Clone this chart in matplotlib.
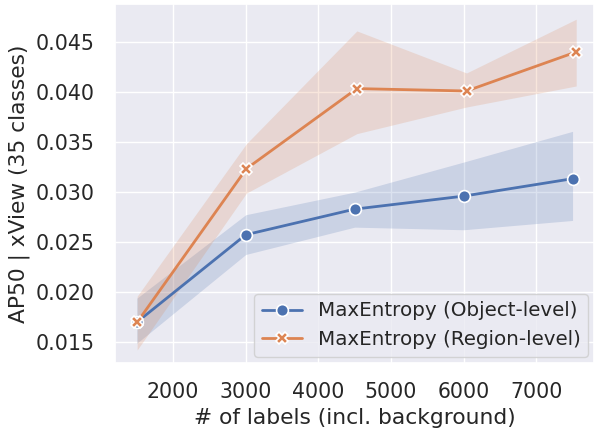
import numpy as np
import matplotlib
matplotlib.use('Agg')
import matplotlib.pyplot as plt
import seaborn as sns

# data
x_obj = [1500, 3000, 4500, 6000, 7500]
y_obj = [0.0170, 0.02574, 0.0283, 0.0296, 0.03134]
lo_obj = [0.0149, 0.02377, 0.0265, 0.02624, 0.02717]
hi_obj = [0.0194, 0.02774, 0.0300, 0.0330, 0.03607]

x_reg = [1505, 3010, 4530, 6040, 7550]
y_reg = [0.0170, 0.03234, 0.04034, 0.0401, 0.0440]
lo_reg = [0.01423, 0.0299, 0.03584, 0.0385, 0.0406]
hi_reg = [0.0196, 0.03484, 0.0461, 0.0419, 0.04727]

labels = ['MaxEntropy (Object-level)', 'MaxEntropy (Region-level)']

sns.set_theme(style='darkgrid')
plt.rcParams['font.family'] = ['DejaVu Sans']
pal = sns.color_palette('deep')

fig = plt.figure(figsize=(5.94, 4.32), dpi=100)
ax = fig.add_axes([0.1936, 0.159, 0.807, 0.832])

ax.fill_between(x_obj, lo_obj, hi_obj, color=pal[0], alpha=0.2, lw=0)
ax.fill_between(x_reg, lo_reg, hi_reg, color=pal[1], alpha=0.2, lw=0)
ax.plot(x_obj, y_obj, color=pal[0], marker='o', ms=8.5, mec='white', mew=1.2,
        lw=2, label=labels[0])
ax.plot(x_reg, y_reg, color=pal[1], marker='X', ms=8.5, mec='white', mew=1.2,
        lw=2, label=labels[1])

ax.set_xlim(1200, 7800)
ax.set_ylim(0.0129, 0.0488)
ax.set_xticks([2000, 3000, 4000, 5000, 6000, 7000])
ax.set_yticks([0.015, 0.020, 0.025, 0.030, 0.035, 0.040, 0.045])
ax.tick_params(axis='x', labelsize=14.8, pad=7.7)
ax.tick_params(axis='y', labelsize=14.8, pad=8.4)
ax.set_xlabel('# of labels (incl. background)', fontsize=15.7)
ax.set_ylabel('AP50 | xView (35 classes)', fontsize=15.7)
ax.legend(loc='lower right', fontsize=14.3, borderaxespad=0.3)

fig.savefig('out.png', dpi=100)
